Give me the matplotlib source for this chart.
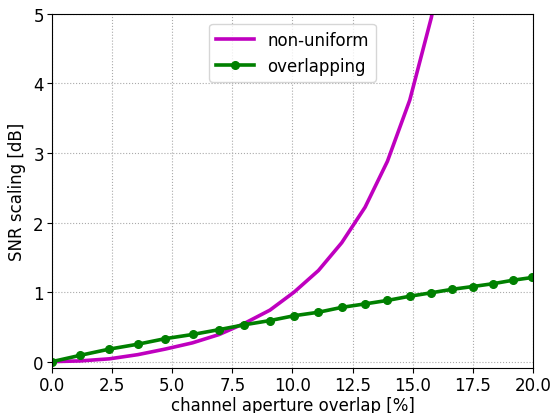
import matplotlib
matplotlib.use("Agg")
import matplotlib.pyplot as plt

# channel aperture overlap [%]
overlap = [0.0, 1.16, 2.38, 3.56, 4.70, 5.84, 6.95, 8.00, 9.06, 10.07, 11.08,
           12.05, 13.02, 13.95, 14.88, 15.78, 16.65, 17.51, 18.34, 19.17, 19.98]

# SNR scaling [dB]
non_uniform = [0.0, 0.01, 0.04, 0.10, 0.18, 0.27, 0.39, 0.55, 0.74, 1.00, 1.31,
               1.71, 2.22, 2.88, 3.76, 4.95, 6.5, 8.5, 11.0, 14.0, 18.0]
overlapping = [0.0, 0.09, 0.18, 0.25, 0.33, 0.39, 0.46, 0.53, 0.59, 0.66, 0.71,
               0.78, 0.83, 0.88, 0.94, 0.99, 1.04, 1.08, 1.12, 1.17, 1.21]

fig = plt.figure(figsize=(5.55, 4.14), dpi=100)
ax = fig.add_axes([0.094, 0.109, 0.866, 0.855])

ax.plot(overlap, non_uniform, color="m", linewidth=2.6, label="non-uniform")
ax.plot(overlap, overlapping, color="g", linewidth=2.6, marker="o",
        markersize=5.5, label="overlapping")

ax.set_xlim(0, 20)
ax.set_ylim(-0.09, 5)
ax.grid(True, linestyle=":", color="#aaaaaa", linewidth=0.8)
ax.tick_params(labelsize=12, pad=2.5)
ax.set_xlabel("channel aperture overlap [%]", fontsize=12, labelpad=1)
ax.set_ylabel("SNR scaling [dB]", fontsize=12, labelpad=5)
ax.legend(loc="upper center", fontsize=12, handlelength=2.3,
          bbox_to_anchor=(0.5, 0.995))

fig.savefig("out.png", dpi=100)
